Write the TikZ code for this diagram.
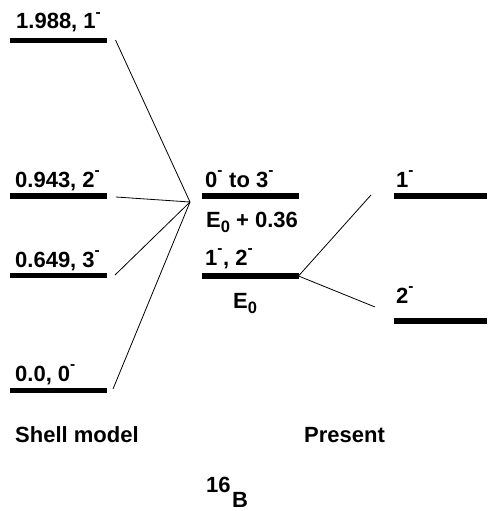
\documentclass[tikz,border=0pt]{standalone}
\usepackage{fontspec}
\setmainfont{Liberation Sans}
\begin{document}
\begin{tikzpicture}[x=1pt,y=-1pt,
  bar/.style={line width=5.5pt},
  conn/.style={line width=0.8pt},
  lbl/.style={anchor=base west,inner sep=0pt,font=\fontsize{22}{26}\selectfont\bfseries}]
\useasboundingbox (0,0) rectangle (487,511);
\newcommand{\mn}{\textsuperscript{\raisebox{0.25em}{-}}}
\newcommand{\sub}[1]{\raisebox{-0.25em}{\fontsize{16.5}{16.5}\selectfont #1}}
% shell model levels
\draw[bar] (10,40.5) -- (107,40.5);
\draw[bar] (10,196) -- (107,196);
\draw[bar] (10,275.5) -- (107,275.5);
\draw[bar] (10,390.5) -- (107,390.5);
\node[lbl] (l1) at (16,29) {1.988, 1\mn};
\node[lbl] (l2) at (15,187) {0.943, 2\mn};
\node[lbl] (l3) at (15,267) {0.649, 3\mn};
\node[lbl] (l4) at (15,381) {0.0, 0\mn};
% middle
\draw[bar] (202,196) -- (298.5,196);
\draw[bar] (202,276) -- (298.5,276);
\node[lbl] (m1) at (205,187) {0\mn{} to 3\mn};
\node[lbl] (m2) at (206,227) {E\sub{0} + 0.36};
\node[lbl] (m3) at (205,265) {1\mn, 2\mn};
\node[lbl] (m4) at (233,308) {E\sub{0}};
% right
\draw[bar] (394,196) -- (487,196);
\draw[bar] (394,321) -- (487,321);
\node[lbl] (r1) at (396,187) {1\mn};
\node[lbl] (r2) at (396,303) {2\mn};
% connectors
\coordinate (c) at (190,202);
\coordinate (s1) at (115.5,40);
\coordinate (s2) at (116,197);
\coordinate (s3) at (115,275);
\coordinate (s4) at (113,389);
\draw[conn] (s1) -- (c);
\draw[conn] (s2) -- (c);
\draw[conn] (s3) -- (c);
\draw[conn] (s4) -- (c);
\coordinate (p) at (298.5,276);
\coordinate (q1) at (371,195);
\coordinate (q2) at (375,307);
\draw[conn] (p) -- (q1);
\draw[conn] (p) -- (q2);
% captions
\node[lbl] (t1) at (15,442) {Shell model};
\node[lbl] (t2) at (304,442) {Present};
\node[lbl] (t3a) at (206,492) {16};
\node[lbl,text depth=0pt] (t3b) at (232,507) {B};
\end{tikzpicture}
\end{document}
